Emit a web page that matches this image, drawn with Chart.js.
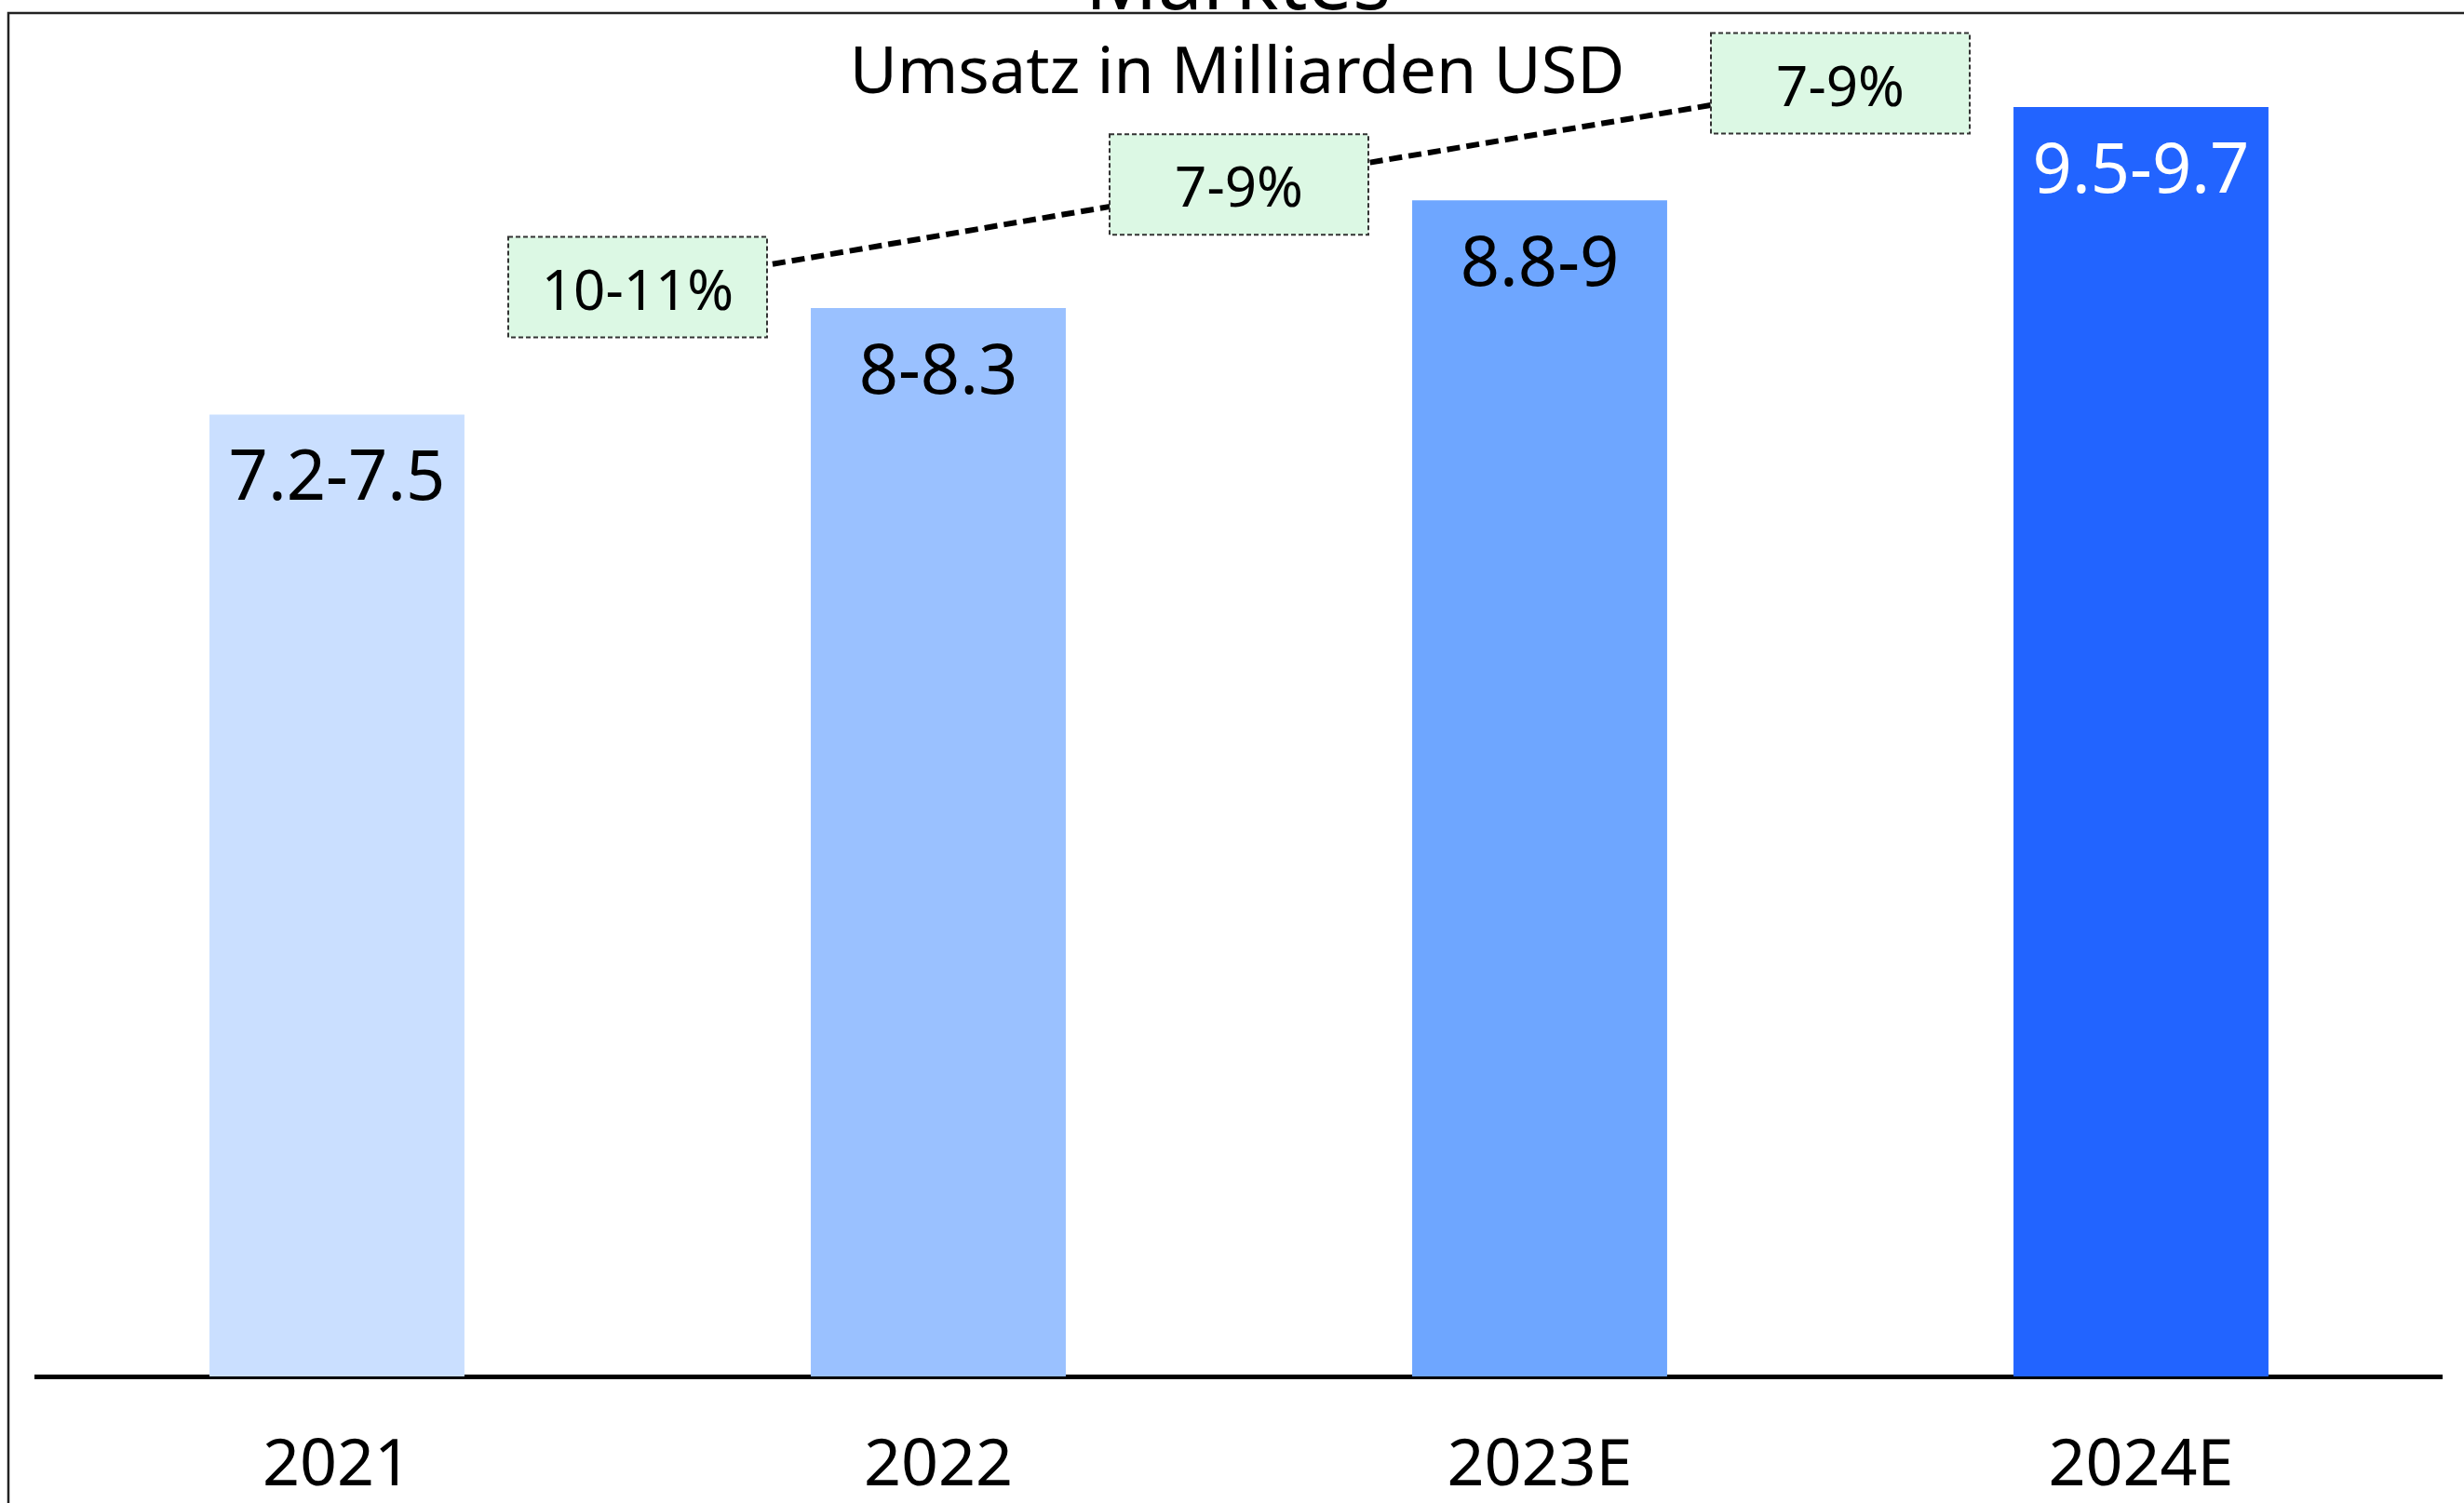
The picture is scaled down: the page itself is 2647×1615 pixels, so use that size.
<!DOCTYPE html>
<html lang="de">
<head>
<meta charset="UTF-8">
<title>Umsatz in Milliarden USD</title>
<script src="https://cdn.jsdelivr.net/npm/chart.js@4.4.0/dist/chart.umd.min.js"></script>
<style>
    body { margin: 0; background: #fff; overflow: hidden; }
    canvas { display: block; }
</style>
</head>
<body>
<canvas id="barChart" width="2647" height="1615"></canvas>
<script>
const $ = id => document.getElementById(id);

// Daten aus der Grafik
const years = ['2021', '2022', '2023E', '2024E'];
const revenue = [7.32, 8.13, 8.95, 9.66];
const revenueLabels = ['7.2-7.5', '8-8.3', '8.8-9', '9.5-9.7'];
const growthLabels = ['10-11%', '7-9%', '7-9%'];
const growthLevels = [8.29, 9.07, 9.84];
const growthPos = [0.5, 1.5, 2.5];

const barColors = ['#cadfff', '#9ac1ff', '#6ea6ff', '#2264ff'];
const labelColors = ['#000', '#000', '#000', '#fff'];
const FONT = '"Noto Sans", "DejaVu Sans", sans-serif';

const framePlugin = {
    id: 'frame',
    beforeDraw: chart => {
        const ctx = chart.ctx;
        ctx.save();
        ctx.fillStyle = '#fff';
        ctx.fillRect(0, 0, chart.width, chart.height);
        ctx.strokeStyle = '#222';
        ctx.lineWidth = 2.5;
        ctx.strokeRect(9, 14, chart.width + 40, chart.height + 40);
        // Titel (oben abgeschnitten)
        ctx.fillStyle = '#000';
        ctx.textAlign = 'center';
        ctx.textBaseline = 'alphabetic';
        ctx.font = `86px ${FONT}`;
        ctx.fillText('Marktes', 1330, 10);
        ctx.textBaseline = 'middle';
        ctx.font = `70px ${FONT}`;
        ctx.fillText('Umsatz in Milliarden USD', 1329, 80);
        ctx.restore();
    }
};

const labelPlugin = {
    id: 'labels',
    afterDatasetsDraw: chart => {
        const ctx = chart.ctx;
        ctx.save();
        ctx.textAlign = 'center';
        ctx.textBaseline = 'middle';
        // Werte in den Balken
        ctx.font = `74px ${FONT}`;
        chart.getDatasetMeta(0).data.forEach((bar, i) => {
            ctx.fillStyle = labelColors[i];
            ctx.fillText(revenueLabels[i], bar.x, bar.y + 71);
        });
        // Wachstumsboxen
        ctx.font = `60px ${FONT}`;
        chart.getDatasetMeta(1).data.forEach((pt, i) => {
            const w = 278, h = 108;
            ctx.fillStyle = '#dcf8e4';
            ctx.fillRect(pt.x - w / 2, pt.y - h / 2, w, h);
            ctx.setLineDash([5, 3]);
            ctx.lineWidth = 2;
            ctx.strokeStyle = '#333';
            ctx.strokeRect(pt.x - w / 2, pt.y - h / 2, w, h);
            ctx.setLineDash([]);
            ctx.fillStyle = '#000';
            ctx.fillText(growthLabels[i], pt.x, pt.y + 7);
        });
        ctx.restore();
    }
};

window.onload = () => {
    const ctx = $('barChart').getContext('2d');
    new Chart(ctx, {
        data: {
            labels: years,
            datasets: [
                {
                    type: 'bar',
                    data: revenue,
                    backgroundColor: barColors,
                    grouped: false,
                    categoryPercentage: 1,
                    barPercentage: 0.424,
                    order: 2
                },
                {
                    type: 'line',
                    data: growthPos.map((x, i) => ({x: x, y: growthLevels[i]})),
                    xAxisID: 'x2',
                    borderColor: '#000',
                    borderWidth: 6,
                    borderDash: [14, 7],
                    pointRadius: 0,
                    tension: 0,
                    fill: false,
                    clip: false,
                    order: 1
                }
            ]
        },
        options: {
            responsive: false,
            animation: false,
            layout: {
                padding: {top: 67, left: 39, right: 24, bottom: 0}
            },
            plugins: {
                legend: {display: false},
                tooltip: {enabled: false},
                title: {display: false}
            },
            scales: {
                x: {
                    grid: {display: false},
                    border: {display: true, color: '#000', width: 5},
                    ticks: {
                        color: '#000',
                        padding: 47,
                        font: {family: FONT, size: 70}
                    },
                    afterFit: scale => { scale.height = 136; }
                },
                x2: {
                    type: 'linear',
                    display: false,
                    min: -0.5,
                    max: 3.5
                },
                y: {
                    display: false,
                    min: 0,
                    max: 10
                }
            }
        },
        plugins: [framePlugin, labelPlugin]
    });
}
</script>
</body>
</html>
